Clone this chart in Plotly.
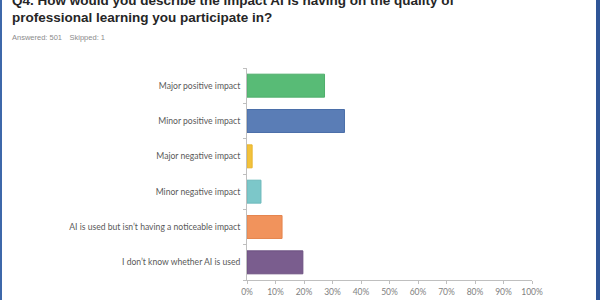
import plotly.graph_objects as go

categories = [
    "Major positive impact",
    "Minor positive impact",
    "Major negative impact",
    "Minor negative impact",
    "AI is used but isn\u2019t having a noticeable impact",
    "I don\u2019t know whether AI is used",
]
values = [27.2, 34.2, 1.8, 4.9, 12.3, 19.6]
colors = ["#58bb76", "#5a7db6", "#f2c23c", "#7cc7c9", "#f1935c", "#7a5d8e"]
line_colors = ["#4fae6b", "#4a6ea8", "#e8b42e", "#6dbabc", "#e5854e", "#6c5080"]
tick_vals = [0, 10, 20, 30, 40, 50, 60, 70, 80, 90, 100]
tick_text = [f"{v}%" for v in tick_vals]
title_line1 = "Q4. How would you describe the impact AI is having on the quality of"
title_line2 = "professional learning you participate in?"
subtitle = "Answered: 501\u2003Skipped: 1"

W, H = 600, 300
L, R, T, B = 247, 68, 68, 20
pw, ph = W - L - R, H - T - B

def px_x(px):
    return (px - L) / pw

def px_y(py):
    return (H - B - py) / ph

fig = go.Figure(
    go.Bar(
        x=values,
        y=categories,
        orientation="h",
        marker=dict(color=colors, line=dict(color=line_colors, width=1)),
        width=0.65,
    )
)

fig.update_layout(
    width=W,
    height=H,
    margin=dict(l=L, r=R, t=T, b=B, autoexpand=False),
    paper_bgcolor="white",
    plot_bgcolor="white",
    showlegend=False,
    xaxis=dict(
        range=[0, 100],
        tickvals=tick_vals,
        ticktext=tick_text,
        showgrid=False,
        zeroline=False,
        showline=True,
        linecolor="#bfbfbf",
        linewidth=1,
        ticks="outside",
        ticklen=3,
        tickcolor="#bfbfbf",
        ticklabelstandoff=1,
        automargin=False,
        tickfont=dict(family="Lato", size=8.5, color="#7f7f7f"),
        fixedrange=True,
    ),
    yaxis=dict(
        categoryorder="array",
        categoryarray=categories[::-1],
        showgrid=False,
        zeroline=False,
        showline=True,
        linecolor="#bfbfbf",
        linewidth=1,
        ticks="outside",
        ticklen=3,
        tickcolor="#bfbfbf",
        tickson="boundaries",
        ticklabelstandoff=4,
        automargin=False,
        tickfont=dict(family="Lato", size=8.6, color="#595959"),
        fixedrange=True,
    ),
    annotations=[
        dict(text="<b>" + title_line1 + "</b>", xref="paper", yref="paper", x=px_x(10), y=px_y(0.5),
             xanchor="left", yanchor="middle", showarrow=False,
             font=dict(family="Liberation Sans", size=13.5, color="#262626")),
        dict(text="<b>" + title_line2 + "</b>", xref="paper", yref="paper", x=px_x(10), y=px_y(17),
             xanchor="left", yanchor="middle", showarrow=False,
             font=dict(family="Liberation Sans", size=13.5, color="#262626")),
        dict(text=subtitle, xref="paper", yref="paper", x=px_x(10), y=px_y(38),
             xanchor="left", yanchor="middle", showarrow=False,
             font=dict(family="Liberation Sans", size=7.5, color="#8c8c8c")),
    ],
    shapes=[
        dict(type="rect", xref="paper", yref="paper", x0=px_x(0), x1=px_x(2),
             y0=px_y(300), y1=px_y(0), fillcolor="#3d68aa", line=dict(width=0), layer="above"),
        dict(type="rect", xref="paper", yref="paper", x0=px_x(596), x1=px_x(600),
             y0=px_y(300), y1=px_y(0), fillcolor="#2f5597", line=dict(width=0), layer="above"),
    ],
)

fig.write_html("out.html")
